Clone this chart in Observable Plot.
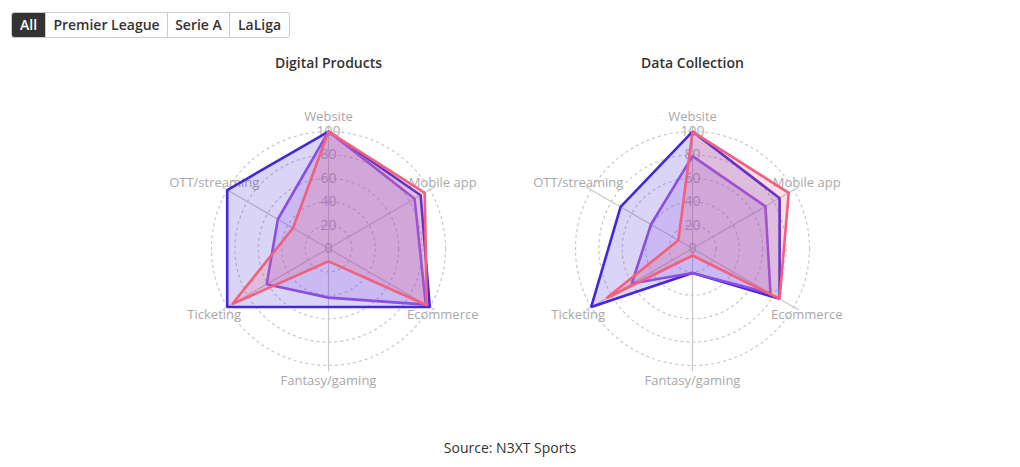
<!DOCTYPE html>
<html><head><meta charset="utf-8">
<script src="https://cdn.jsdelivr.net/npm/d3@7"></script>
<script src="https://cdn.jsdelivr.net/npm/@observablehq/plot@0.6"></script>
<style>
body{margin:0;background:#fff;font-family:"Open Sans",sans-serif;width:1020px;height:467px;position:relative;overflow:hidden}
#buttons{position:absolute;left:11px;top:12px;display:flex;height:26px;border:1px solid #ccc;border-radius:3px;overflow:hidden;box-sizing:border-box}
#buttons span{display:block;line-height:24px;font-size:14px;font-weight:600;color:#333;border-left:1px solid #ccc;text-align:center;box-sizing:border-box}
#buttons span.active{background:#333;color:#fff;border-left:none}
#chart{position:absolute;left:0;top:48px}
#caption{position:absolute;left:0;top:438px;width:1020px;text-align:center;font-size:14px;color:#333;line-height:20px}
</style></head>
<body>
<div id="buttons"></div>
<div id="chart"></div>
<div id="caption">Source: N3XT Sports</div>
<script>
const buttons = ["All", "Premier League", "Serie A", "LaLiga"];
const charts = ["Digital Products", "Data Collection"];
const axes = ["Website", "Mobile app", "Ecommerce", "Fantasy/gaming", "Ticketing", "OTT/streaming"];
const series = ["Premier League", "Serie A", "LaLiga"];
const colors = ["#4527d9", "#8b4fe0", "#f2607c"];
const ticks = [0, 20, 40, 60, 80, 100];

// values per axis, in the order of `axes`
const digitalPremierLeague = [100, 91, 100, 50, 100, 100];
const digitalSerieA        = [100, 85, 96, 42, 61, 50];
const digitalLaLiga        = [100, 95, 97, 11, 95, 35];
const dataPremierLeague    = [100, 86, 86, 21, 100, 71];
const dataSerieA           = [79, 72, 77, 21, 60, 41];
const dataLaLiga           = [100, 95, 86, 6, 85, 14];

const values = [
  [digitalPremierLeague, digitalSerieA, digitalLaLiga],
  [dataPremierLeague, dataSerieA, dataLaLiga]
];

// buttons
const bw = [33, 122, 62, 60];
const bdiv = document.getElementById("buttons");
buttons.forEach((b, i) => {
  const s = document.createElement("span");
  s.textContent = b;
  s.style.width = bw[i] + "px";
  if (i === 0) s.className = "active";
  bdiv.appendChild(s);
});

const n = axes.length;
const ang = i => i * 2 * Math.PI / n;
const rows = [];
charts.forEach((c, ci) => series.forEach((s, si) => values[ci][si].forEach((v, i) =>
  rows.push({chart: c, series: s, axis: axes[i], value: v, angle: ang(i)}))));
const axisRows = [];
charts.forEach(c => axes.forEach((a, i) => axisRows.push({chart: c, axis: a, angle: ang(i)})));
const tickRows = [];
charts.forEach(c => ticks.forEach(t => tickRows.push({chart: c, value: t})));

const D = 155.6;
const polyMarks = series.map((s, si) => Plot.line(rows.filter(d => d.series === s), {
  fx: "chart",
  x: d => d.value * Math.sin(d.angle),
  y: d => d.value * Math.cos(d.angle),
  stroke: colors[si],
  fill: colors[si],
  fillOpacity: 0.2,
  strokeWidth: 2.6,
  strokeLinejoin: "miter",
  curve: "linear-closed"
}));

const plot = Plot.plot({
  width: 1020,
  height: 382,
  marginLeft: 146,
  marginRight: 146,
  marginTop: 18,
  marginBottom: 0,
  style: {fontFamily: "Open Sans, sans-serif", fontSize: "13px", background: "transparent"},
  fx: {domain: charts, axis: null, padding: 0},
  x: {domain: [-D, D], axis: null},
  y: {domain: [-D, D], axis: null},
  r: {type: "linear", domain: [0, 100], range: [0, 117]},
  marks: [
    Plot.dot(tickRows.filter(d => d.value > 0), {
      fx: "chart", x: () => 0, y: () => 0, r: "value",
      stroke: "#c8c8c8", fill: "none", strokeWidth: 1.2, strokeDasharray: "3,3"
    }),
    Plot.link(axisRows, {
      fx: "chart", x1: () => 0, y1: () => 0,
      x2: d => 105 * Math.sin(d.angle), y2: d => 105 * Math.cos(d.angle),
      stroke: "#c8c8c8", strokeWidth: 1.2
    }),
    Plot.text(tickRows, {
      fx: "chart", x: () => 0, y: "value", text: d => String(d.value),
      fill: "#b0b0b0", fontSize: 14
    }),
    Plot.text(axisRows, {
      fx: "chart",
      x: d => 112.8 * Math.sin(d.angle), y: d => 112.8 * Math.cos(d.angle),
      text: "axis", fill: "#a8a8a8", fontSize: 13
    }),
    ...polyMarks,
    Plot.text(charts, {
      fx: d => d, frameAnchor: "top", dy: -8, text: d => d,
      fontWeight: 600, fontSize: 14, fill: "#333"
    })
  ]
});
document.getElementById("chart").appendChild(plot);
</script>
</body></html>
